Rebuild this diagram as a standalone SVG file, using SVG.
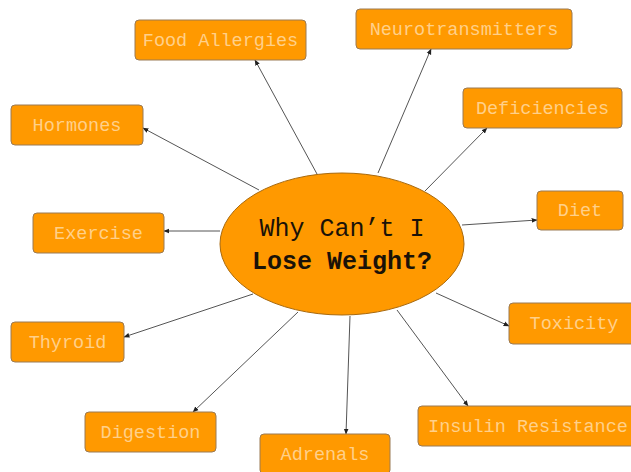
<svg xmlns="http://www.w3.org/2000/svg" width="631" height="472" viewBox="0 0 631 472">
  <defs>
    <marker id="arrow" viewBox="0 0 10 10" refX="9" refY="5" markerWidth="6" markerHeight="6" orient="auto" markerUnits="userSpaceOnUse">
      <path d="M0,1 L10,5 L0,9 Z" fill="#222"/>
    </marker>
    <style>
      .box { fill: #ff9900; stroke: #9a7a55; stroke-width: 1; }
      .label { font-family: "Liberation Mono", "Courier New", monospace; font-size: 18.5px; fill: #ffd08a; text-anchor: middle; }
      .hub { fill: #ff9900; stroke: #a86a10; stroke-width: 1; }
      .hubtext { font-family: "Liberation Mono", "Courier New", monospace; font-size: 25px; fill: #1a1208; text-anchor: middle; }
      .link { stroke: #555; stroke-width: 1; fill: none; marker-end: url(#arrow); }
    </style>
  </defs>
  <rect width="631" height="472" fill="#ffffff"/>

  <!-- spokes from the centre to each cause -->
  <g id="connectors">
    <line class="link" x1="317" y1="174" x2="255" y2="60"/>
    <line class="link" x1="378" y1="173" x2="431" y2="49"/>
    <line class="link" x1="425" y1="191" x2="487" y2="128"/>
    <line class="link" x1="462" y1="225" x2="537" y2="220"/>
    <line class="link" x1="436" y1="293" x2="509" y2="326"/>
    <line class="link" x1="397" y1="310" x2="468" y2="406"/>
    <line class="link" x1="350" y1="316" x2="346" y2="434"/>
    <line class="link" x1="298" y1="312" x2="193" y2="412"/>
    <line class="link" x1="253" y1="294" x2="124" y2="337"/>
    <line class="link" x1="220" y1="231" x2="164" y2="231"/>
    <line class="link" x1="259" y1="190" x2="143" y2="128"/>
  </g>

  <g id="hub">
    <ellipse class="hub" cx="342" cy="244" rx="122" ry="71"/>
    <text class="hubtext" x="342" y="236">Why Can’t I</text>
    <text class="hubtext" x="342" y="269" font-weight="bold">Lose Weight?</text>
  </g>

  <g id="food-allergies">
    <rect class="box" x="135" y="20" width="171" height="40" rx="4"/>
    <text class="label" x="220.5" y="46">Food Allergies</text>
  </g>
  <g id="neurotransmitters">
    <rect class="box" x="356" y="9" width="216" height="40" rx="4"/>
    <text class="label" x="464" y="35">Neurotransmitters</text>
  </g>
  <g id="deficiencies">
    <rect class="box" x="463" y="88" width="159" height="40" rx="4"/>
    <text class="label" x="542.5" y="114">Deficiencies</text>
  </g>
  <g id="diet">
    <rect class="box" x="537" y="191" width="86" height="39" rx="4"/>
    <text class="label" x="580" y="216">Diet</text>
  </g>
  <g id="toxicity">
    <rect class="box" x="509" y="303" width="130" height="41" rx="4"/>
    <text class="label" x="574" y="329">Toxicity</text>
  </g>
  <g id="insulin-resistance">
    <rect class="box" x="418" y="406" width="220" height="40" rx="4"/>
    <text class="label" x="528" y="432">Insulin Resistance</text>
  </g>
  <g id="adrenals">
    <rect class="box" x="260" y="434" width="130" height="40" rx="4"/>
    <text class="label" x="325" y="460">Adrenals</text>
  </g>
  <g id="digestion">
    <rect class="box" x="85" y="412" width="131" height="40" rx="4"/>
    <text class="label" x="150.5" y="438">Digestion</text>
  </g>
  <g id="thyroid">
    <rect class="box" x="11" y="322" width="113" height="40" rx="4"/>
    <text class="label" x="67.5" y="348">Thyroid</text>
  </g>
  <g id="exercise">
    <rect class="box" x="33" y="213" width="131" height="40" rx="4"/>
    <text class="label" x="98.5" y="239">Exercise</text>
  </g>
  <g id="hormones">
    <rect class="box" x="11" y="105" width="132" height="40" rx="4"/>
    <text class="label" x="77" y="131">Hormones</text>
  </g>
</svg>
